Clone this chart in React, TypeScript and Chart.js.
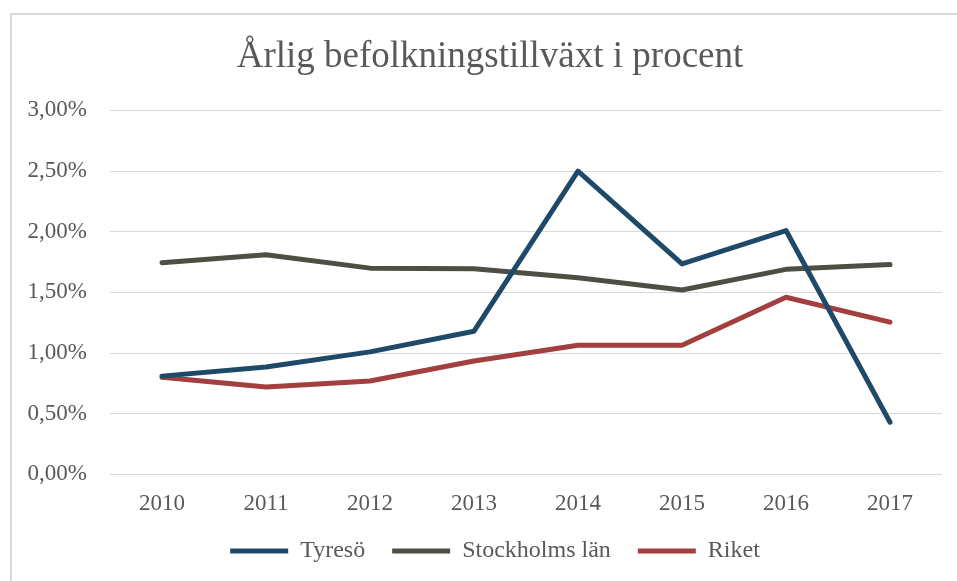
import React, { useEffect, useRef } from "react";
import { Chart, registerables } from "chart.js";

Chart.register(...registerables);

const categories = ["2010", "2011", "2012", "2013", "2014", "2015", "2016", "2017"];
const tyreso = [0.81, 0.885, 1.01, 1.18, 2.5, 1.735, 2.01, 0.43];
const stockholm = [1.745, 1.81, 1.7, 1.695, 1.62, 1.52, 1.69, 1.73];
const riket = [0.8, 0.72, 0.77, 0.935, 1.065, 1.065, 1.46, 1.255];
const titleText = "Årlig befolkningstillväxt i procent";
const seriesNames = ["Tyresö", "Stockholms län", "Riket"];

const FONT = "'Liberation Serif', 'Times New Roman', serif";
const TEXT = "#595959";
const GRID = "#d9d9d9";

const shiftPlugin = {
  id: "shiftBoxes",
  afterLayout(chart: any) {
    const l = chart.legend;
    if (l) {
      l.left += 24;
      l.right += 24;
      l.top -= 14;
      l.bottom -= 14;
    }
    const t = chart.titleBlock;
    if (t) {
      t.left += 19;
      t.right += 19;
      t.top -= 1;
      t.bottom -= 1;
    }
  },
};

export default function App() {
  const ref = useRef<HTMLCanvasElement | null>(null);
  useEffect(() => {
    if (!ref.current) return;
    const mk = (label: string, data: number[], color: string) => ({
      label,
      data,
      borderColor: color,
      backgroundColor: color,
      borderWidth: 5,
      borderCapStyle: "round" as const,
      borderJoinStyle: "round" as const,
      pointRadius: 0,
      pointHoverRadius: 0,
      tension: 0,
      fill: false,
    });
    const chart = new Chart(ref.current, {
      type: "line",
      data: {
        labels: categories,
        datasets: [
          mk(seriesNames[0], tyreso, "#1f4968"),
          mk(seriesNames[1], stockholm, "#4e4e44"),
          mk(seriesNames[2], riket, "#a33f3f"),
        ],
      },
      plugins: [shiftPlugin],
      options: {
        responsive: false,
        animation: false,
        events: [],
        layout: { padding: { top: 20, left: 0, right: 15, bottom: 53 } },
        plugins: {
          tooltip: { enabled: false },
          title: {
            display: true,
            text: titleText,
            color: TEXT,
            font: { family: FONT, size: 37, weight: "normal" },
            padding: { top: 16, bottom: 30 },
          },
          legend: {
            position: "bottom",
            labels: {
              color: TEXT,
              font: { family: FONT, size: 24 },
              usePointStyle: true,
              pointStyle: "line",
              pointStyleWidth: 58,
              padding: 27,
            },
          },
        },
        scales: {
          x: {
            offset: true,
            grid: { display: false },
            border: { display: false },
            ticks: {
              color: TEXT,
              font: { family: FONT, size: 23 },
              padding: 8,
              maxRotation: 0,
            },
          },
          y: {
            min: 0,
            max: 3,
            grid: { color: GRID, lineWidth: 1, drawTicks: false },
            border: { display: false },
            afterFit: (s: any) => {
              s.width = 110;
            },
            ticks: {
              stepSize: 0.5,
              color: TEXT,
              font: { family: FONT, size: 23 },
              padding: 23,
              callback: (v: any) => Number(v).toFixed(2).replace(".", ",") + "%",
            },
          },
        },
      },
    });
    return () => chart.destroy();
  }, []);

  return (
    <div
      style={{
        position: "fixed",
        left: 0,
        top: 0,
        width: 957,
        height: 581,
        overflow: "hidden",
        background: "#fff",
      }}
    >
      <div
        style={{
          position: "absolute",
          left: 10,
          top: 13,
          width: 1000,
          height: 1000,
          border: "2px solid #d9d9d9",
          boxSizing: "border-box",
        }}
      />
      <canvas
        ref={ref}
        width={957}
        height={640}
        style={{ position: "absolute", left: 0, top: 0, width: 957, height: 640 }}
      />
    </div>
  );
}
